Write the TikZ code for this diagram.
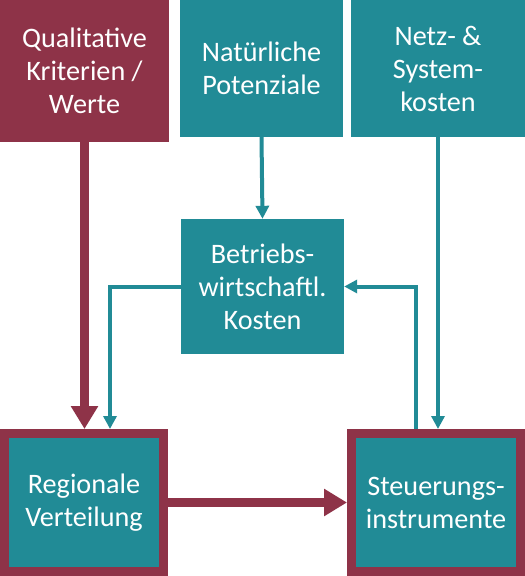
\documentclass[tikz,border=0pt]{standalone}
\usepackage{fontspec}
\setmainfont{Carlito}
\usetikzlibrary{arrows.meta,calc}
\definecolor{qred}{RGB}{142,51,72}
\definecolor{qteal}{RGB}{33,139,150}
\tikzset{
  blk/.style={
    fill=qteal, text=white, align=center, inner sep=0pt,
    font=\fontsize{28.2}{33}\selectfont
  },
  val/.style={blk, fill=qred},
  res/.style={blk, draw=qred, line width=9pt},
  rarr/.style={-{Triangle[length=23pt,width=26pt]}, draw=qred, line width=8.5pt},
  tarr/.style={-{Triangle[length=13pt,width=13pt]}, draw=qteal, line width=4pt},
  tline/.style={draw=qteal, line width=4pt}
}
\begin{document}
\begin{tikzpicture}[x=1pt,y=-1pt]
  \useasboundingbox (0,0) rectangle (525,576);
  % top row
  \node[val, minimum width=169pt, minimum height=142pt] (qual) at (84.5,71)
    {Qualitative\\Kriterien /\\Werte};
  \node[blk, minimum width=163pt, minimum height=137pt] (nat) at (261.5,68.5)
    {Natürliche\\Potenziale};
  \node[blk, minimum width=174pt, minimum height=137pt] (netz) at (438,68.5)
    {Netz- \&\\System-\\kosten};
  % middle
  \node[blk, minimum width=163pt, minimum height=135pt] (bet) at (262.5,286.5)
    {Betriebs-\\wirtschaftl.\\Kosten};
  % bottom row
  \node[res, minimum width=159pt, minimum height=138pt] (reg) at (84,502.5)
    {Regionale\\Verteilung};
  \node[res, minimum width=169pt, minimum height=138pt] (steu) at (436,502.5)
    {Steuerungs-\\instrumente};
  % connectors
  \draw[rarr] (qual.south) -- (qual.south |- reg.north);
  \draw[rarr] (reg.east) -- (steu.west);
  \draw[tarr] (nat.south) -- (bet.north);
  \draw[tarr] (bet.west) -| ($(reg.north)+(26,0)$);
  \draw[tarr] ($(steu.north)+(-20,0)$) |- (bet.east);
  \draw[tarr] (netz.south) -- (netz.south |- steu.north);
\end{tikzpicture}
\end{document}
